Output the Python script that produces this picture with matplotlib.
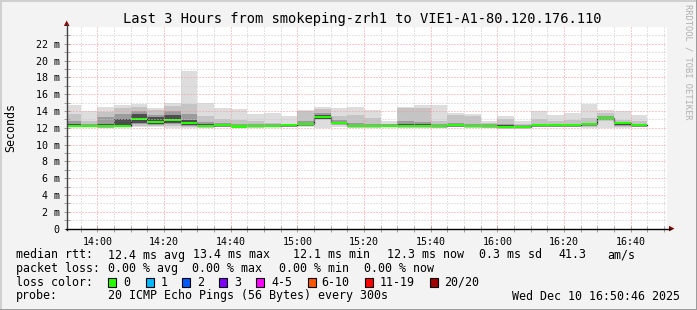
import matplotlib
matplotlib.use("Agg")
import matplotlib.pyplot as plt
from matplotlib.lines import Line2D
from matplotlib.patches import Polygon, Rectangle
import numpy as np

# ---------------- data ----------------
# 5-minute bins starting 13:50 ... 16:40
bin_start_labels = ["13:50", "13:55", "14:00", "14:05", "14:10", "14:15", "14:20", "14:25",
                    "14:30", "14:35", "14:40", "14:45", "14:50", "14:55", "15:00", "15:05",
                    "15:10", "15:15", "15:20", "15:25", "15:30", "15:35", "15:40", "15:45",
                    "15:50", "15:55", "16:00", "16:05", "16:10", "16:15", "16:20", "16:25",
                    "16:30", "16:35", "16:40"]

median_ms = [12.25, 12.25, 12.20, 12.25, 13.08, 12.72, 12.88, 12.52, 12.24, 12.28,
             12.16, 12.20, 12.24, 12.28, 12.40, 13.32, 12.60, 12.20, 12.24, 12.24,
             12.24, 12.24, 12.20, 12.28, 12.24, 12.20, 12.14, 12.14, 12.28, 12.28,
             12.28, 12.44, 13.12, 12.52, 12.28]

# smoke bands (ms): outer -> inner
hi1 = [14.68, 13.95, 14.48, 14.68, 14.80, 14.30, 14.90, 18.76, 14.96, 14.36,
       14.28, 13.68, 13.80, 13.44, 14.12, 14.48, 14.36, 14.52, 14.16, 12.76,
       14.52, 14.68, 14.68, 13.72, 13.60, 12.76, 13.36, 12.84, 14.00, 13.48,
       13.72, 14.80, 14.16, 14.04, 13.48]
hi2 = [13.60, 12.80, 13.90, 14.30, 14.50, 14.10, 14.60, 14.80, 13.40, 13.00,
       12.90, 12.80, 12.60, 12.50, 13.95, 14.20, 13.40, 13.50, 13.20, 12.50,
       14.30, 14.40, 12.80, 13.50, 13.40, 12.60, 13.10, 12.50, 13.00, 12.80,
       12.90, 13.20, 13.80, 12.90, 12.80]
hi3 = [12.80, 12.50, 13.30, 13.60, 14.00, 13.50, 14.00, 13.60, 12.70, 12.60,
       12.50, 12.45, 12.40, 12.40, 12.80, 13.80, 12.90, 12.60, 12.50, 12.40,
       12.80, 12.70, 12.50, 12.60, 12.50, 12.40, 12.40, 12.35, 12.50, 12.50,
       12.50, 12.60, 13.40, 12.70, 12.45]
hi4 = [12.45, 12.35, 12.50, 13.00, 13.60, 13.30, 13.55, 12.90, 12.40, 12.40,
       12.30, 12.30, 12.30, 12.35, 12.50, 13.50, 12.75, 12.35, 12.35, 12.30,
       12.45, 12.40, 12.35, 12.40, 12.35, 12.30, 12.30, 12.25, 12.35, 12.35,
       12.40, 12.50, 13.25, 12.60, 12.35]
lo4 = [12.20, 12.20, 12.10, 12.30, 12.60, 12.50, 12.60, 12.35, 12.15, 12.20,
       12.10, 12.15, 12.20, 12.20, 12.30, 13.10, 12.50, 12.15, 12.15, 12.20,
       12.15, 12.15, 12.10, 12.20, 12.15, 12.10, 12.05, 12.05, 12.20, 12.20,
       12.20, 12.30, 13.00, 12.35, 12.20]
lo3 = [12.15, 12.15, 12.05, 12.20, 12.40, 12.35, 12.40, 12.25, 12.10, 12.15,
       12.05, 12.10, 12.15, 12.15, 12.25, 13.00, 12.40, 12.10, 12.10, 12.15,
       12.10, 12.10, 12.05, 12.15, 12.10, 12.05, 12.00, 12.00, 12.15, 12.15,
       12.15, 12.20, 12.90, 12.25, 12.15]
lo2 = [12.10, 12.10, 12.00, 12.10, 12.20, 12.20, 12.20, 12.15, 12.05, 12.10,
       12.00, 12.05, 12.10, 12.10, 12.20, 12.95, 12.30, 12.05, 12.05, 12.10,
       12.05, 12.05, 12.00, 12.10, 12.05, 12.00, 11.95, 11.95, 12.10, 12.10,
       12.10, 12.10, 12.80, 12.10, 12.10]
lo1 = [12.05, 12.05, 11.95, 12.05, 12.05, 12.05, 12.00, 12.00, 12.00, 12.05,
       11.95, 12.00, 12.05, 12.05, 12.10, 12.00, 12.10, 12.00, 12.00, 12.05,
       12.00, 12.00, 11.95, 12.05, 12.00, 11.95, 11.90, 11.90, 12.05, 12.05,
       12.05, 12.00, 12.00, 12.00, 12.05]

x_tick_labels = ["14:00", "14:20", "14:40", "15:00", "15:20", "15:40", "16:00", "16:20", "16:40"]
y_tick_values = [0, 2, 4, 6, 8, 10, 12, 14, 16, 18, 20, 22]

title = "Last 3 Hours from smokeping-zrh1 to VIE1-A1-80.120.176.110"
loss_labels = ["0", "1", "2", "3", "4-5", "6-10", "11-19", "20/20"]
loss_colors = ["#26ff00", "#00b8ff", "#0059ff", "#7e00ff", "#ff00ff", "#ff5500", "#ff0000", "#a00000"]

# ---------------- helpers ----------------
W, H = 697, 310
def to_min(s):
    h, m = s.split(":")
    return int(h) * 60 + int(m)

starts = np.array([to_min(s) for s in bin_start_labels], dtype=float)
edges = np.append(starts, starts[-1] + 5)
def ext(a):
    a = np.asarray(a, dtype=float)
    return np.append(a, a[-1])

def fx(x):
    return x / W
def fy(y):
    return 1 - y / H

MONO = "DejaVu Sans Mono"
plt.rcParams["font.family"] = MONO

fig = plt.figure(figsize=(W / 100, H / 100), dpi=100, facecolor="#f3f3f3")

x_left, x_right = 66.7, 666.7
y_bot, y_top = 228.6, 27.0
ax = fig.add_axes([fx(x_left), fy(y_bot), (x_right - x_left) / W, (y_bot - y_top) / H])
ax.set_facecolor("white")

t_end = 16 * 60 + 50 + 46 / 60
t_start = t_end - 180
ax.set_xlim(t_start, t_end)
ax.set_ylim(0, 24)

# smoke
band_colors = ["#dddddd", "#c4c4c4", "#9c9c9c", "#4e4e4e"]
for lo, hi, c in zip([lo1, lo2, lo3, lo4], [hi1, hi2, hi3, hi4], band_colors):
    ax.fill_between(edges, ext(lo), ext(hi), step="post", color=c, lw=0, zorder=1)

# median line + loss-colored band
ax.step(edges, ext(median_ms), where="post", color="#202020", lw=0.9, zorder=2)
swidth = 0.125
med = ext(median_ms)
ax.fill_between(edges, med - swidth, med + swidth, step="post", color=loss_colors[0], lw=0, zorder=3)

# grid (dotted, like rrdtool)
px = 0.72
for v in np.arange(1, 24, 1):
    major = (v % 2 == 0)
    ax.axhline(v, color="#ff9494" if major else "#c8c8c8", lw=px, ls=(0, (1, 2)), zorder=4)
x_major = [to_min(s) for s in x_tick_labels]
for tt in np.arange(835, 1011, 5):
    major = tt in x_major
    ax.axvline(tt, color="#ff9494" if major else "#c8c8c8", lw=px, ls=(0, (1, 2)), zorder=4)

# ticks
ax.set_xticks(x_major)
ax.set_xticklabels(x_tick_labels)
ax.set_xticks(np.arange(835, 1011, 5), minor=True)
ax.set_yticks(y_tick_values)
ax.set_yticklabels(["0" if v == 0 else f"{v} m" for v in y_tick_values])
ax.set_yticks(np.arange(0, 24, 1), minor=True)
ax.tick_params(axis="both", which="both", direction="inout", length=4, width=0.72, color="#a0a0a0",
               labelsize=7.2, pad=3)
ax.tick_params(axis="x", pad=4)

for s in ["top", "right", "left", "bottom"]:
    ax.spines[s].set_visible(False)

# axes with arrows
fig.add_artist(Line2D([fx(x_left), fx(x_left)], [fy(y_bot + 1), fy(24)], transform=fig.transFigure,
                      color="#404040", lw=1.0))
fig.add_artist(Line2D([fx(x_left - 1), fx(670)], [fy(y_bot), fy(y_bot)], transform=fig.transFigure,
                      color="#000000", lw=1.0))
fig.add_artist(Polygon([[fx(x_left - 2.8), fy(26)], [fx(x_left + 2.8), fy(26)], [fx(x_left), fy(20.5)]],
                       closed=True, transform=fig.transFigure, color="#8b0000", lw=0))
fig.add_artist(Polygon([[fx(669), fy(y_bot - 2.8)], [fx(669), fy(y_bot + 2.8)], [fx(674.5), fy(y_bot)]],
                       closed=True, transform=fig.transFigure, color="#8b0000", lw=0))

# titles
fig.text(fx(362), fy(19), title, ha="center", va="center", fontsize=9.9, family=MONO)
fig.text(fx(11), fy(128), "Seconds", ha="center", va="center", rotation=90, fontsize=8.4, family=MONO)
fig.text(fx(688), fy(4), "RRDTOOL / TOBI OETIKER", ha="center", va="top", rotation=270,
         fontsize=6.3, family=MONO, color="#b0b0b0")

# legend rows
fs = 8.4
def t(x, y, s, **kw):
    fig.text(fx(x), fy(y), s, ha=kw.pop("ha", "left"), va="center", fontsize=fs, family=MONO, **kw)

r1, r2, r3, r4 = 255, 268.5, 282.3, 296
t(16, r1, "median rtt:")
t(107.6, r1, "12.4 ms avg")
t(193, r1, "13.4 ms max")
t(293, r1, "12.1 ms min")
t(387, r1, "12.3 ms now")
t(479, r1, "0.3 ms sd")
t(558, r1, "41.3")
t(607, r1, "am/s")

t(16, r2, "packet loss:")
t(107.6, r2, "0.00 % avg")
t(192, r2, "0.00 % max")
t(279, r2, "0.00 % min")
t(364, r2, "0.00 % now")

t(16, r3, "loss color:")
box_x = [108, 146, 182, 219, 256, 307.5, 365, 430]
lab_x = [123.5, 161, 197, 234, 271, 321, 380, 444]
for bx, lx, lab, col in zip(box_x, lab_x, loss_labels, loss_colors):
    fig.add_artist(Rectangle((fx(bx), fy(r3 + 4.5)), 8 / W, 9 / H, transform=fig.transFigure,
                             facecolor=col, edgecolor="black", lw=0.8))
    t(lx, r3, lab)

t(16, r4, "probe:")
t(107.6, r4, "20 ICMP Echo Pings (56 Bytes) every 300s")
t(680, r4, "Wed Dec 10 16:50:46 2025", ha="right")

# frame
fig.add_artist(Line2D([0, 1], [fy(0.5), fy(0.5)], transform=fig.transFigure, color="#d0d0d0", lw=1.4))
fig.add_artist(Line2D([fx(0.5), fx(0.5)], [0, 1], transform=fig.transFigure, color="#d0d0d0", lw=1.4))
fig.add_artist(Line2D([0, 1], [fy(H - 0.5), fy(H - 0.5)], transform=fig.transFigure, color="#9a9a9a", lw=1.4))
fig.add_artist(Line2D([fx(W - 0.5), fx(W - 0.5)], [0, 1], transform=fig.transFigure, color="#9a9a9a", lw=1.4))

fig.savefig("out.png", dpi=100, facecolor=fig.get_facecolor())
